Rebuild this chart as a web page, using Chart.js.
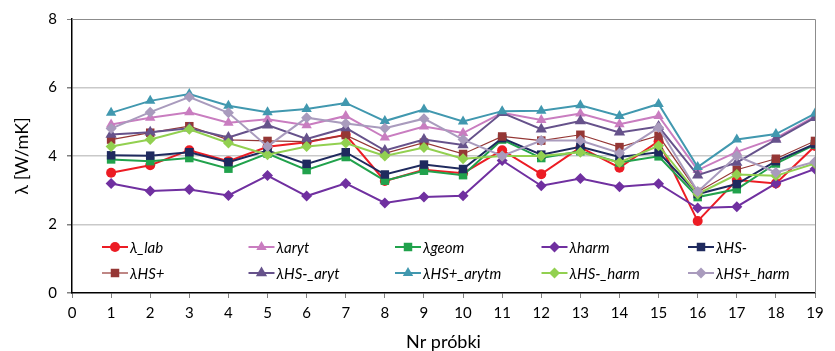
<!DOCTYPE html>
<html>
<head>
<meta charset="utf-8">
<script src="https://cdn.jsdelivr.net/npm/chart.js@4/dist/chart.umd.min.js"></script>
<style>
html, body {margin:0; padding:0; background:#fff}
</style>
</head>
<body>
<canvas id="wykres" width="835" height="351"></canvas>
<script>
// numery probek (os X)
var probki = [1, 2, 3, 4, 5, 6, 7, 8, 9, 10, 11, 12, 13, 14, 15, 16, 17, 18, 19]

// wspolczynnik przewodzenia ciepla [W/mK]
var lab      = [3.51, 3.73, 4.17, 3.85, 4.27, 4.40, 4.62, 3.27, 3.60, 3.50, 4.17, 3.47, 4.25, 3.66, 4.43, 2.10, 3.30, 3.20, 4.29]
var aryt     = [4.92, 5.12, 5.28, 4.97, 5.07, 4.90, 5.17, 4.54, 4.86, 4.67, 5.26, 5.05, 5.24, 4.93, 5.17, 3.59, 4.12, 4.52, 5.16]
var geom     = [3.90, 3.85, 3.94, 3.63, 4.07, 3.59, 3.97, 3.28, 3.57, 3.44, 4.48, 3.94, 4.14, 3.81, 3.99, 2.80, 3.03, 3.78, 4.33]
var harm     = [3.20, 2.98, 3.02, 2.85, 3.43, 2.83, 3.20, 2.63, 2.80, 2.84, 3.87, 3.13, 3.34, 3.10, 3.19, 2.48, 2.52, 3.20, 3.62]
var hsMinus  = [4.02, 4.01, 4.11, 3.82, 4.16, 3.77, 4.11, 3.46, 3.75, 3.62, 4.52, 4.04, 4.27, 3.97, 4.11, 2.89, 3.18, 3.85, 4.35]
var hsPlus   = [4.48, 4.68, 4.87, 4.47, 4.44, 4.42, 4.61, 4.08, 4.39, 4.06, 4.57, 4.45, 4.62, 4.26, 4.59, 2.95, 3.60, 3.92, 4.44]
var hsMAryt  = [4.63, 4.69, 4.81, 4.54, 4.90, 4.50, 4.82, 4.16, 4.48, 4.32, 5.26, 4.78, 5.02, 4.69, 4.86, 3.44, 3.81, 4.48, 5.12]
var hsPAryt  = [5.26, 5.61, 5.81, 5.47, 5.28, 5.37, 5.55, 5.02, 5.36, 5.01, 5.31, 5.32, 5.48, 5.17, 5.52, 3.68, 4.48, 4.64, 5.24]
var hsMHarm  = [4.28, 4.48, 4.78, 4.38, 4.04, 4.28, 4.38, 4.00, 4.25, 3.92, 4.00, 4.00, 4.11, 3.81, 4.30, 2.89, 3.46, 3.42, 3.78]
var hsPHarm  = [4.80, 5.28, 5.72, 5.26, 4.28, 5.12, 4.95, 4.81, 5.09, 4.48, 4.00, 4.45, 4.45, 4.09, 4.83, 2.96, 4.00, 3.52, 3.83]

var yTicks = [0, 2, 4, 6, 8]

var FONT = "Lato, 'Open Sans', sans-serif"

function punkty(arr){
	return arr.map(function(v, i){ return {x: probki[i], y: v} })
}

var serie = [
	{label: 'λ_lab',        data: lab,     color: '#EC1C24', style: 'circle',   r: 5,   w: 2},
	{label: 'λaryt',        data: aryt,    color: '#C97DC0', style: 'triangle', r: 6,   w: 2},
	{label: 'λgeom',        data: geom,    color: '#21A24C', style: 'rect',     r: 6,   w: 2},
	{label: 'λharm',        data: harm,    color: '#7030A0', style: 'rectRot',  r: 5.5, w: 2},
	{label: 'λHS-',         data: hsMinus, color: '#1F2A5E', style: 'rect',     r: 6,   w: 2},
	{label: 'λHS+',         data: hsPlus,  color: '#953735', style: 'rect',     r: 6,   w: 1.2},
	{label: 'λHS-_aryt',    data: hsMAryt, color: '#66528B', style: 'triangle', r: 6.5, w: 2},
	{label: 'λHS+_arytm',   data: hsPAryt, color: '#4198AF', style: 'triangle', r: 6,   w: 2},
	{label: 'λHS-_harm',    data: hsMHarm, color: '#92D050', style: 'rectRot',  r: 5.5, w: 2},
	{label: 'λHS+_harm',    data: hsPHarm, color: '#A99BBD', style: 'rectRot',  r: 5.5, w: 2}
]

var datasets = serie.map(function(s, i){
	return {
		label: s.label,
		data: punkty(s.data),
		borderColor: s.color,
		backgroundColor: s.color,
		borderWidth: s.w,
		pointStyle: s.style,
		pointRadius: s.r,
		pointBorderWidth: 0,
		pointBackgroundColor: s.color,
		tension: 0,
		order: serie.length - i
	}
})

// legenda wewnatrz obszaru wykresu (2 wiersze po 5)
var legendaWewn = {
	id: 'legendaWewn',
	afterDraw: function(chart){
		var ctx = chart.ctx, a = chart.chartArea
		ctx.save()
		chart.data.datasets.forEach(function(ds, i){
			var col = i % 5, row = Math.floor(i / 5)
			var x = a.left + 30 + col * 146.5
			var y = a.bottom - 46 + row * 26
			ctx.strokeStyle = ds.borderColor
			ctx.fillStyle = ds.borderColor
			ctx.lineWidth = ds.borderWidth
			ctx.beginPath()
			ctx.moveTo(x, y)
			ctx.lineTo(x + 26, y)
			ctx.stroke()
			if (Chart.helpers && Chart.helpers.drawPoint) {
				Chart.helpers.drawPoint(ctx, {pointStyle: ds.pointStyle, radius: ds.pointRadius, borderWidth: 0, rotation: 0}, x + 13, y)
			} else {
				ctx.beginPath(); ctx.arc(x + 13, y, 4.5, 0, Math.PI * 2); ctx.fill()
			}
			ctx.fillStyle = '#000'
			ctx.font = 'italic 15px ' + FONT
			ctx.textBaseline = 'middle'
			ctx.textAlign = 'left'
			ctx.fillText(ds.label, x + 28, y + 1)
		})
		ctx.restore()
	}
}

// ramka: gorna i prawa krawedz
var ramka = {
	id: 'ramka',
	beforeDatasetsDraw: function(chart){
		var ctx = chart.ctx, a = chart.chartArea
		ctx.save()
		ctx.strokeStyle = '#8C8C8C'
		ctx.lineWidth = 1
		ctx.beginPath()
		ctx.moveTo(a.left, a.top + 0.5)
		ctx.lineTo(a.right + 0.5, a.top + 0.5)
		ctx.lineTo(a.right + 0.5, a.bottom)
		ctx.stroke()
		ctx.restore()
	}
}

var ctx = document.getElementById("wykres")
var myChart = new Chart(ctx, {
	type: 'line',
	data: {datasets: datasets},
	options: {
		responsive: false,
		animation: false,
		devicePixelRatio: 1,
		layout: {padding: {top: 14, right: 20, left: 0, bottom: 0}},
		plugins: {
			legend: {display: false},
			tooltip: {enabled: false}
		},
		scales: {
			x: {
				type: 'linear',
				min: 0, max: 19,
				ticks: {stepSize: 1, color: '#000', font: {family: FONT, size: 15}, padding: 6},
				grid: {drawOnChartArea: false, drawTicks: true, tickLength: 5, tickColor: '#808080'},
				border: {color: '#000', width: 1.5},
				title: {display: true, text: 'Nr próbki', color: '#000', font: {family: FONT, size: 18, lineHeight: 1}, padding: {top: 0, bottom: 0}},
				afterFit: function(axis){ axis.height = 58 }
			},
			y: {
				min: 0, max: 8,
				afterBuildTicks: function(axis){ axis.ticks = yTicks.map(function(v){ return {value: v} }) },
				ticks: {color: '#000', font: {family: FONT, size: 15}, padding: 10},
				grid: {
					color: function(c){ return c.tick && c.tick.value === 0 ? 'rgba(0,0,0,0)' : (c.tick && c.tick.value === 8 ? '#8C8C8C' : '#C9C9C9') },
					lineWidth: function(c){ return c.tick && c.tick.value === 8 ? 1 : 1.5 },
					tickLength: 5, tickColor: '#808080'
				},
				border: {color: '#000', width: 1.5},
				title: {display: true, text: 'λ [W/mK]', color: '#000', font: {family: FONT, size: 18, lineHeight: 1}, padding: {top: 13, bottom: 0}},
				afterFit: function(axis){ axis.width = 72 }
			}
		}
	},
	plugins: [ramka, legendaWewn]
})
</script>
</body>
</html>
